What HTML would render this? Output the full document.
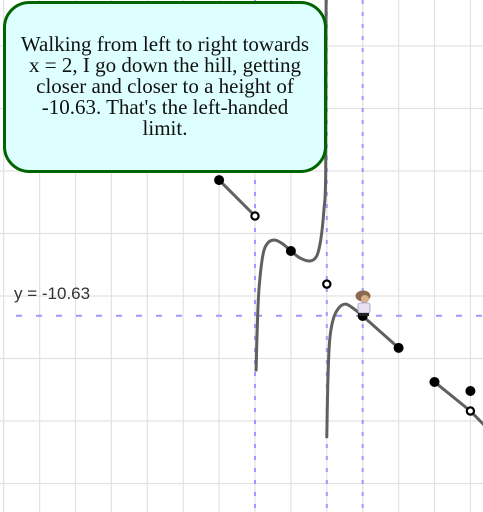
<!DOCTYPE html>
<html><head><meta charset="utf-8">
<style>
html,body{margin:0;padding:0;background:#fff;}
svg{display:block;}
</style></head>
<body>
<svg id="chart" width="483" height="512" viewBox="0 0 483 512" xmlns="http://www.w3.org/2000/svg">
<g id="grid"></g>
<g id="guides"></g>
<g id="curves"></g>
<g id="points"></g>
<text x="14" y="299" font-family="Liberation Sans, sans-serif" font-size="17" fill="#333">y = -10.63</text>
<g transform="translate(355,290)">
  <ellipse cx="8" cy="6" rx="7.5" ry="5.5" fill="#8a6a50"/>
  <circle cx="10" cy="9" r="4" fill="#d9b08c"/>
  <rect x="3" y="13" width="12" height="10" rx="2" fill="#e6e0f0" stroke="#8878a8" stroke-width="0.6"/>
  <rect x="4" y="23" width="10" height="3" fill="#222"/>
</g>
<g>
  <rect x="4.5" y="2.5" width="321" height="169" rx="25" ry="25" fill="#ddffff" stroke="#006400" stroke-width="3"/>
  <g font-family="Liberation Serif, serif" font-size="21" fill="#111" text-anchor="middle">
    <text x="165" y="51">Walking from left to right towards</text>
    <text x="165" y="72">x = 2, I go down the hill, getting</text>
    <text x="165" y="93">closer and closer to a height of</text>
    <text x="165" y="114">-10.63. That's the left-handed</text>
    <text x="165" y="135">limit.</text>
  </g>
</g>
</svg>
<script>
// data (graph units)
const gridX = [-7,-6,-5,-4,-3,-2,-1,0,1,2,3,4,5,6];
const gridY = [0,-2,-4,-6,-8,-10,-12,-14,-16];
const guideX = [0,2,3];
const guideY = [-10.63];
const curve1X = [0.03,0.06,0.11,0.22,0.36,0.56,0.78,1.0,1.25,1.53,1.72,1.83,1.92,1.97,1.98];
const curve1Y = [-12.37,-11.09,-9.81,-8.69,-8.30,-8.21,-8.34,-8.56,-8.78,-8.88,-8.72,-8.21,-7.25,-5.97,-0.5];
const curve2X = [2.0,2.03,2.08,2.19,2.36,2.53,2.72,3.0];
const curve2Y = [-14.51,-12.69,-11.41,-10.70,-10.35,-10.26,-10.38,-10.64];
const seg2X = [3.0,4.0];
const seg2Y = [-10.64,-11.66];
const seg1X = [-1,0];
const seg1Y = [-6.29,-7.44];
const seg3X = [5,6,6.4];
const seg3Y = [-12.75,-13.68,-14.15];
const filledX = [-1,1,3,4,5,6];
const filledY = [-6.29,-8.56,-10.64,-11.66,-12.75,-13.04];
const openX = [0,2,6];
const openY = [-7.44,-9.62,-13.68];

const NS='http://www.w3.org/2000/svg';
const sx = x => 255 + x*35.9;
const sy = y => 296 - (y+10)*31.25;
function mk(tag, attrs, parent){const e=document.createElementNS(NS,tag);for(const k in attrs)e.setAttribute(k,attrs[k]);parent.appendChild(e);return e;}
const grid=document.getElementById('grid'), guides=document.getElementById('guides'), curves=document.getElementById('curves'), pts=document.getElementById('points');
gridX.forEach(x=>{const l=mk('line',{x1:sx(x),x2:sx(x),y1:0,y2:512,stroke:'#e2e2e2','stroke-width':1.2},grid);

});
gridY.forEach(y=>{const l=mk('line',{x1:0,x2:483,y1:sy(y),y2:sy(y),stroke:'#e2e2e2','stroke-width':1.2},grid);

});
guideX.forEach(x=>{const l=mk('line',{x1:sx(x),x2:sx(x),y1:0,y2:512,stroke:'#9a9aff','stroke-width':2,'stroke-dasharray':'4,8'},guides);

});
guideY.forEach(y=>{const l=mk('line',{x1:16,x2:483,y1:sy(y),y2:sy(y),stroke:'#9a9aff','stroke-width':2,'stroke-dasharray':'6,14'},guides);

});
function poly(X,Y,name,smooth){
  const P=X.map((x,i)=>[sx(x),sy(Y[i])]);
  let d='M'+P[0][0].toFixed(1)+','+P[0][1].toFixed(1);
  for(let i=0;i<P.length-1;i++){
    if(!smooth){d+=' L'+P[i+1][0].toFixed(1)+','+P[i+1][1].toFixed(1);continue;}
    const p0=P[i-1]||P[i],p1=P[i],p2=P[i+1],p3=P[i+2]||P[i+1];
    const c1=[p1[0]+(p2[0]-p0[0])/6,p1[1]+(p2[1]-p0[1])/6];
    const c2=[p2[0]-(p3[0]-p1[0])/6,p2[1]-(p3[1]-p1[1])/6];
    d+=' C'+c1[0].toFixed(1)+','+c1[1].toFixed(1)+' '+c2[0].toFixed(1)+','+c2[1].toFixed(1)+' '+p2[0].toFixed(1)+','+p2[1].toFixed(1);
  }
  const p=mk('path',{d:d,fill:'none',stroke:'#606060','stroke-width':3,'stroke-linejoin':'round','stroke-linecap':'round'},curves);
  
  }
poly(seg1X,seg1Y,'line-segment-left',false);
poly(curve1X,curve1Y,'curve-branch-1',true);
poly(curve2X,curve2Y,'curve-branch-2',true);
poly(seg2X,seg2Y,'line-segment-middle',false);
poly(seg3X,seg3Y,'line-segment-right',false);
filledX.forEach((x,i)=>{const c=mk('circle',{cx:sx(x),cy:sy(filledY[i]),r:5,fill:'#000'},pts);

});
openX.forEach((x,i)=>{const c=mk('circle',{cx:sx(x),cy:sy(openY[i]),r:3.6,fill:'#fff',stroke:'#000','stroke-width':2.2},pts);

});
</script>
</body></html>
